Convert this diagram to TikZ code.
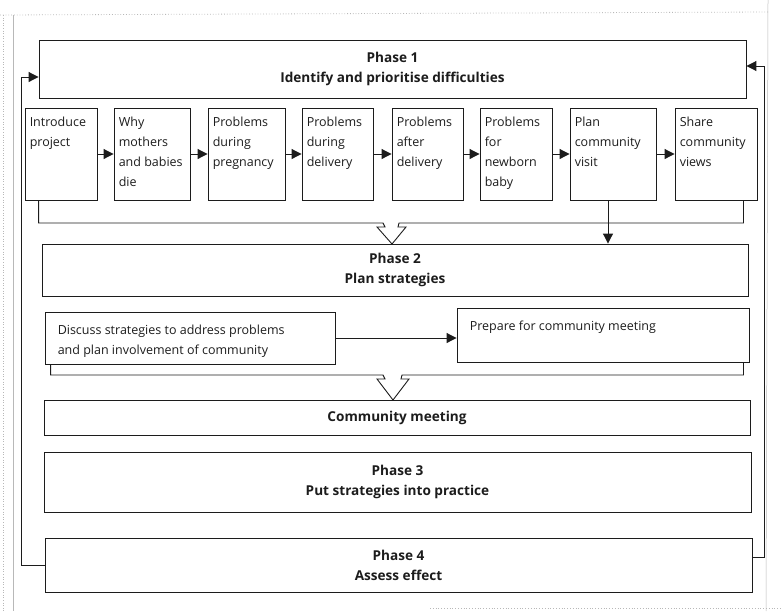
\documentclass[tikz,border=0pt]{standalone}
\usepackage{fontspec}
\setmainfont{Open Sans}
\usetikzlibrary{arrows.meta,calc}
\definecolor{ink}{HTML}{1C1C1C}
\definecolor{framegray}{HTML}{B8B8B8}
\begin{document}
\begin{tikzpicture}[x=1pt,y=-1pt,
  box/.style={draw=ink, line width=0.9pt, inner sep=0pt},
  stepbox/.style={box, minimum height=92pt},
  steptext/.style={anchor=north west, inner sep=0pt, align=left, text=ink, font=\fontsize{12.5}{20}\selectfont},
  phasetext/.style={font=\fontsize{13.6}{20}\selectfont\bfseries, align=center, text=ink},
  arr/.style={-{Triangle[length=10pt,width=10pt]}, line width=1pt, draw=ink},
  link/.style={line width=0.9pt, draw=ink}]
\useasboundingbox (0,0) rectangle (781,611);
% scanned page frame
\draw[framegray, dotted, line width=0.8pt] (0,15) -- (768,12);
\draw[framegray, line width=0.5pt] (768,0) -- (766,611);
\draw[framegray, line width=0.5pt] (13,15) -- (13,611);
\draw[framegray, dotted, line width=0.6pt] (3,15) -- (3,611);
\draw[framegray, dotted, line width=0.8pt] (430,608) -- (781,608);
% phase 1
\node[box, minimum width=707pt, minimum height=58pt, phasetext] (p1) at (392.5,69) {Phase 1\\Identify and prioritise difficulties};
% steps
\node[stepbox, minimum width=72pt] (b1) at (61,154) {};
\node[steptext] (t1) at ($(b1.north west)+(5,9)$) {Introduce\\project};
\node[stepbox, minimum width=76pt] (b2) at (152,154) {};
\node[steptext] (t2) at ($(b2.north west)+(5,9)$) {Why\\mothers\\and babies\\die};
\node[stepbox, minimum width=77pt] (b3) at (246.5,154) {};
\node[steptext] (t3) at ($(b3.north west)+(5,9)$) {Problems\\during\\pregnancy};
\node[stepbox, minimum width=71pt] (b4) at (337.5,154) {};
\node[steptext] (t4) at ($(b4.north west)+(5,9)$) {Problems\\during\\delivery};
\node[stepbox, minimum width=71pt] (b5) at (427.5,154) {};
\node[steptext] (t5) at ($(b5.north west)+(5,9)$) {Problems\\after\\delivery};
\node[stepbox, minimum width=72pt] (b6) at (516,154) {};
\node[steptext] (t6) at ($(b6.north west)+(5,9)$) {Problems\\for\\newborn\\baby};
\node[stepbox, minimum width=86pt] (b7) at (613,154) {};
\node[steptext] (t7) at ($(b7.north west)+(5,9)$) {Plan\\community\\visit};
\node[stepbox, minimum width=82pt] (b8) at (716,154) {};
\node[steptext] (t8) at ($(b8.north west)+(5,9)$) {Share\\community\\views};
\draw[arr] (b1) -- (b2);
\draw[arr] (b2) -- (b3);
\draw[arr] (b3) -- (b4);
\draw[arr] (b4) -- (b5);
\draw[arr] (b5) -- (b6);
\draw[arr] (b6) -- (b7);
\draw[arr] (b7) -- (b8);
% phase 2
\node[box, minimum width=706pt, minimum height=52pt, phasetext] (p2) at (395,270) {Phase 2\\Plan strategies};
\coordinate (v1) at ($(b7.south)+(-5,0)$);
\draw[arr] (v1) -- (v1 |- p2.north);
\draw[link] ($(b1.south west)+(14,0)$) |- (383,223) -- (385,227) -- (377,227) -- (392,244)
  -- (406,227) -- (398,227) -- (399,223) -| ($(b8.south east)+(-14,0)$);
% discuss / prepare
\node[box, minimum width=290pt, minimum height=52pt] (dis) at (190,338) {};
\node[steptext] (tdis) at ($(dis.north west)+(13,13)$) {Discuss strategies to address problems\\and plan involvement of community};
\node[box, minimum width=292pt, minimum height=54pt] (prep) at (603,335) {};
\node[steptext] (tprep) at ($(prep.north west)+(13,13)$) {Prepare for community meeting};
\draw[arr] (dis.east) -- (dis.east -| prep.west);
% community meeting
\node[box, minimum width=706pt, minimum height=35pt, phasetext] (cm) at (397,417.5) {Community meeting};
\draw[link] ($(dis.south west)+(6,0)$) |- (383,375) -- (385,379) -- (377,379) -- (393,400)
  -- (409,379) -- (401,379) -- (402,375) -| ($(prep.south east)+(-6,0)$);
% phases 3, 4
\node[box, minimum width=707pt, minimum height=60pt, phasetext] (p3) at (397.5,482) {Phase 3\\Put strategies into practice};
\node[box, minimum width=707pt, minimum height=54pt, phasetext] (p4) at (398.5,565) {Phase 4\\Assess effect};
% feedback loops
\draw[arr] (p4.west) -- ++(-23,0) |- ($(p1.west)+(0,8)$);
\draw[arr] ($(p4.east)+(0,-8)$) -- ++(12,0) |- ($(p1.east)+(0,-3)$);
\end{tikzpicture}
\end{document}
